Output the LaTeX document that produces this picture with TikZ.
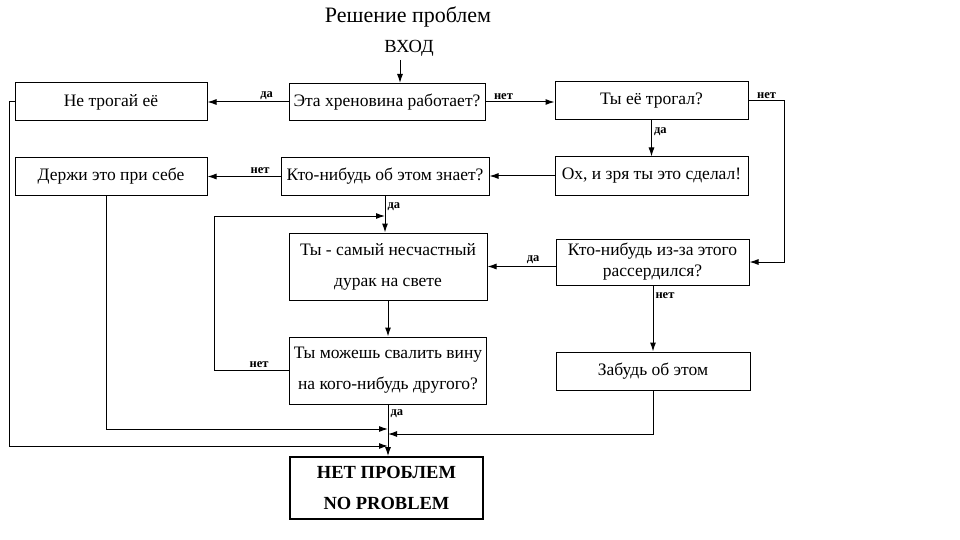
\documentclass[tikz,border=0pt]{standalone}
\usepackage{fontspec}
\setmainfont{Liberation Serif}
\usetikzlibrary{arrows.meta,positioning,calc}

\begin{document}
\begin{tikzpicture}[x=1pt, y=-1pt, box/.style={draw, rectangle, line width=1pt, inner sep=0pt, align=center, font=\fontsize{17.5}{31}\selectfont}, myto/.style={-{Latex[length=9pt,width=6pt]}, line width=1pt
}, lbl/.style={font=\bfseries\fontsize{12.5}{13}\selectfont, inner sep=2pt}]
\useasboundingbox (0,0) rectangle (960,540);
\node[font=\fontsize{22}{24}\selectfont] (title) at (408,17) {Решение проблем};
\node[font=\fontsize{18.5}{20}\selectfont] (entry) at (409,48) {ВХОД};
\node[box, minimum width=192pt, minimum height=38pt] (notouch) at (111,102) {Не трогай её};
\node[box, minimum width=196pt, minimum height=37pt] (works) at (387,102) {Эта хреновина работает?};
\node[box, minimum width=193pt, minimum height=38pt] (touched) at (651.5,101) {Ты её трогал?};
\node[box, minimum width=193pt, minimum height=38pt] (oops) at (651.5,176) {Ох, и зря ты это сделал!};
\node[box, minimum width=208pt, minimum height=37pt] (knows) at (385,176.5) {Кто-нибудь об этом знает?};
\node[box, minimum width=192pt, minimum height=38pt] (keep) at (111,176.5) {Держи это при себе};
\node[box, minimum width=198pt, minimum height=67pt] (fool) at (388,266.5) {Ты - самый несчастный\\дурак на свете};
\node[box, minimum width=197pt, minimum height=67pt] (blame) at (388,370.5) {Ты можешь свалить вину\\на кого-нибудь другого?};
\node[box, minimum width=193pt, minimum height=46pt, font=\fontsize{17.5}{21}\selectfont] (angry) at (652.5,262) {Кто-нибудь из-за этого\\рассердился?};
\node[box, minimum width=194pt, minimum height=38pt] (forget) at (653,371) {Забудь об этом};
\node[box, line width=1.8pt, minimum width=193pt, minimum height=62pt, font=\bfseries\fontsize{18.5}{31}\selectfont] (noprob) at (386.5,488) {НЕТ ПРОБЛЕМ\\NO PROBLEM};
\coordinate (j0) at (400,60);
\coordinate (j1) at (385,216);
\coordinate (j2) at (388,429);
\coordinate (j3) at (388,434);
\coordinate (j4) at (388,446);
\draw[myto] (j0) -- (j0 |- works.north);
\foreach \i/\j/\t/\a/\p in {works/notouch/да/above/0.27, touched/oops/да/right/0.3, knows/keep/нет/above/0.28, fool/blame//right/0.5}{\draw[myto] (\i) -- node[lbl, \a, pos=\p] {\t} (\j);}
\draw[myto] (works.east) -- node[lbl, above, pos=0.26] {нет} (works.east -| touched.west);
\draw[myto] (oops.west) -- (oops.west -| knows.east);
\draw[myto] (touched.east) -- node[lbl, above] {нет} ++(36,0) |- (angry.east);
\draw[myto] (knows.south) -- node[lbl, right, pos=0.3] {да} (knows.south |- fool.north);
\draw[myto] (angry.west |- fool.east) -- node[lbl, above, pos=0.33] {да} (fool.east);
\draw[myto] (angry.south -| forget.north) -- node[lbl, right, pos=0.16] {нет} (forget.north);
\draw[myto] (blame.west) -- node[lbl, above, pos=0.4] {нет} ++(-75,0) |- (j1);
\draw[myto] (blame.south) -- node[lbl, right, pos=0.17] {да} (blame.south |- noprob.north);
\draw[myto] ([xshift=-5pt]keep.south) |- (j2);
\draw[myto] (forget.south) |- (j3);
\draw[myto] (notouch.west) -- ++(-5,0) |- (j4);
\end{tikzpicture}
\end{document}
